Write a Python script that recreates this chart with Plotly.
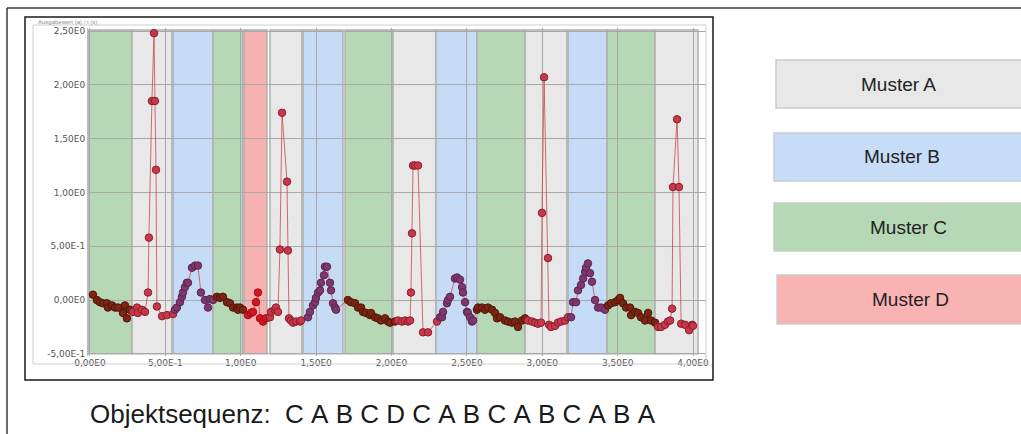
import plotly.graph_objects as go

W, H = 1021, 434

# ---------------- data ----------------
# pattern segments (background bands): start, end, pattern
seg_start = [-0.013, 0.279, 0.551, 0.816, 1.022, 1.194, 1.413, 1.692, 2.010, 2.295, 2.567, 2.886, 3.171, 3.430, 3.748]
seg_end = [0.279, 0.544, 0.816, 1.015, 1.174, 1.406, 1.678, 2.010, 2.295, 2.567, 2.886, 3.164, 3.430, 3.748, 4.033]
seg_pattern = ["C", "A", "B", "C", "D", "A", "B", "C", "A", "B", "C", "A", "B", "C", "A"]

# measurement series, one list per band
x_c1 = [0.020, 0.046, 0.066, 0.086, 0.113, 0.119, 0.146, 0.166, 0.186, 0.219, 0.232, 0.245, 0.265]
y_c1 = [0.05, 0.00, -0.02, -0.03, -0.03, -0.07, -0.05, -0.07, -0.07, -0.12, -0.05, -0.17, -0.09]
x_a1 = [0.285, 0.312, 0.318, 0.345, 0.365, 0.385, 0.391, 0.411, 0.425, 0.431, 0.438, 0.444, 0.478, 0.511, 0.551]
y_a1 = [-0.11, -0.07, -0.12, -0.09, -0.11, 0.07, 0.58, 1.85, 2.48, 1.85, 1.21, -0.06, -0.15, -0.14, -0.13]
x_b1 = [0.564, 0.577, 0.597, 0.610, 0.617, 0.630, 0.643, 0.650, 0.677, 0.697, 0.716, 0.736, 0.763, 0.783, 0.796, 0.816]
y_b1 = [-0.09, -0.07, -0.02, 0.03, 0.07, 0.12, 0.16, 0.16, 0.30, 0.32, 0.32, 0.07, 0.00, -0.07, 0.01, 0.00]
x_c2 = [0.842, 0.862, 0.882, 0.909, 0.929, 0.949, 0.975, 0.982, 0.995, 1.015]
y_c2 = [0.03, 0.02, 0.03, -0.02, -0.03, -0.07, -0.07, -0.09, -0.07, -0.09]
x_d1 = [1.048, 1.068, 1.081, 1.101, 1.114, 1.128, 1.148, 1.167]
y_d1 = [-0.14, -0.12, -0.11, -0.02, 0.07, -0.17, -0.20, -0.17]
x_a2 = [1.194, 1.201, 1.227, 1.234, 1.247, 1.260, 1.274, 1.307, 1.313, 1.320, 1.333, 1.347, 1.367, 1.393, 1.400]
y_a2 = [-0.16, -0.11, -0.09, -0.07, -0.11, 0.47, 1.74, 1.10, 0.46, -0.17, -0.19, -0.21, -0.20, -0.20, -0.19]
x_b2 = [1.446, 1.459, 1.479, 1.493, 1.499, 1.513, 1.526, 1.532, 1.552, 1.559, 1.572, 1.592, 1.599, 1.612, 1.625, 1.632]
y_b2 = [-0.16, -0.11, -0.05, -0.02, 0.02, 0.07, 0.09, 0.16, 0.23, 0.31, 0.31, 0.16, 0.09, -0.03, -0.07, -0.09]
x_c3 = [1.711, 1.731, 1.758, 1.778, 1.798, 1.811, 1.831, 1.857, 1.864, 1.891, 1.910, 1.930, 1.957, 1.977, 1.990, 2.023]
y_c3 = [0.00, -0.02, -0.03, -0.07, -0.07, -0.11, -0.12, -0.14, -0.12, -0.16, -0.17, -0.19, -0.17, -0.20, -0.21, -0.20]
x_a3 = [2.043, 2.070, 2.090, 2.109, 2.123, 2.129, 2.136, 2.143, 2.156, 2.176, 2.209, 2.242, 2.302]
y_a3 = [-0.19, -0.20, -0.19, -0.20, -0.19, 0.07, 0.62, 1.25, 1.25, 1.25, -0.30, -0.30, -0.20]
x_b3 = [2.322, 2.335, 2.342, 2.368, 2.375, 2.388, 2.421, 2.434, 2.454, 2.468, 2.474, 2.488, 2.501, 2.507, 2.521, 2.534, 2.541]
y_b3 = [-0.16, -0.16, -0.11, -0.03, 0.00, 0.03, 0.20, 0.21, 0.19, 0.12, 0.07, -0.02, -0.11, -0.12, -0.16, -0.20, -0.19]
x_c4 = [2.567, 2.574, 2.600, 2.620, 2.640, 2.667, 2.687, 2.700, 2.720, 2.753, 2.773, 2.799, 2.819, 2.839, 2.866, 2.886]
y_c4 = [-0.09, -0.07, -0.07, -0.09, -0.07, -0.09, -0.12, -0.17, -0.16, -0.19, -0.20, -0.21, -0.20, -0.25, -0.19, -0.17]
x_a4 = [2.905, 2.932, 2.952, 2.972, 2.992, 2.998, 3.012, 3.038, 3.045, 3.058, 3.085, 3.104, 3.124, 3.151, 3.171]
y_a4 = [-0.19, -0.20, -0.21, -0.22, -0.21, 0.81, 2.07, 0.39, -0.23, -0.25, -0.24, -0.21, -0.20, -0.19, -0.16]
x_b4 = [3.191, 3.204, 3.224, 3.237, 3.257, 3.271, 3.284, 3.290, 3.303, 3.317, 3.330, 3.350, 3.370, 3.390, 3.416]
y_b4 = [-0.16, -0.02, -0.02, 0.09, 0.14, 0.20, 0.26, 0.30, 0.34, 0.25, 0.17, 0.00, -0.07, -0.07, -0.09]
x_c5 = [3.436, 3.456, 3.483, 3.503, 3.516, 3.536, 3.556, 3.582, 3.589, 3.615, 3.635, 3.655, 3.682, 3.702, 3.722, 3.748]
y_c5 = [-0.05, -0.03, -0.02, 0.00, 0.02, -0.03, -0.07, -0.07, -0.14, -0.11, -0.12, -0.16, -0.19, -0.12, -0.19, -0.21]
x_a5 = [3.768, 3.788, 3.814, 3.834, 3.848, 3.861, 3.867, 3.894, 3.907, 3.921, 3.947, 3.974, 3.994, 4.000]
y_a5 = [-0.25, -0.25, -0.23, -0.20, -0.19, -0.08, 1.05, 1.68, 1.05, -0.22, -0.23, -0.28, -0.23, -0.24]

series_x = [x_c1, x_a1, x_b1, x_c2, x_d1, x_a2, x_b2, x_c3, x_a3, x_b3, x_c4, x_a4, x_b4, x_c5, x_a5]
series_y = [y_c1, y_a1, y_b1, y_c2, y_d1, y_a2, y_b2, y_c3, y_a3, y_b3, y_c4, y_a4, y_b4, y_c5, y_a5]

x_ticks = [0, 0.5, 1.0, 1.5, 2.0, 2.5, 3.0, 3.5, 4.0]
x_tick_labels = ["0,00E0", "5,00E-1", "1,00E0", "1,50E0", "2,00E0", "2,50E0", "3,00E0", "3,50E0", "4,00E0"]
y_ticks = [-0.5, 0, 0.5, 1.0, 1.5, 2.0, 2.5]
y_tick_labels = ["-5,00E-1", "0,00E0", "5,00E-1", "1,00E0", "1,50E0", "2,00E0", "2,50E0"]

legend_labels = ["Muster A", "Muster B", "Muster C", "Muster D"]
sequence_label = "Objektsequenz:"
sequence_items = ["C", "A", "B", "C", "D", "C", "A", "B", "C", "A", "B", "C", "A", "B", "A"]

# ---------------- styles ----------------
band_fill = {"A": "#e8e8e8", "B": "#c6dcf6", "C": "#b7d8b5", "D": "#f8b1b1"}
marker_fill = {"A": "#c8384a", "B": "#80386c", "C": "#7e2412", "D": "#d8141f"}
marker_edge = {"A": "#8a1f2a", "B": "#5a2550", "C": "#4e170b", "D": "#9a0f16"}


def px(x):
    return x / W


def py(y):
    return 1 - y / H


fig = go.Figure()

# connecting line through all points
all_x = [v for s in series_x for v in s]
all_y = [v for s in series_y for v in s]
fig.add_trace(go.Scatter(x=all_x, y=all_y, mode="lines",
                         line=dict(color="rgba(200,60,70,0.75)", width=1),
                         hoverinfo="skip", showlegend=False))

for xs, ys, pat in zip(series_x, series_y, seg_pattern):
    fig.add_trace(go.Scatter(
        x=xs, y=ys, mode="markers", showlegend=False,
        marker=dict(size=7.5, color=marker_fill[pat], line=dict(color=marker_edge[pat], width=1))))

shapes = []
# background bands
for s0, s1, pat in zip(seg_start, seg_end, seg_pattern):
    shapes.append(dict(type="rect", xref="x", yref="y", x0=s0, x1=s1, y0=-0.5, y1=2.51,
                       fillcolor=band_fill[pat], line=dict(color="#b0b0b0", width=1.5), layer="below"))

# outer slide frame lines
shapes.append(dict(type="line", xref="paper", yref="paper", x0=px(7), x1=px(1021), y0=py(8), y1=py(8),
                   line=dict(color="#3a3a3a", width=1.5)))
shapes.append(dict(type="line", xref="paper", yref="paper", x0=px(7), x1=px(7), y0=py(8), y1=py(434),
                   line=dict(color="#3a3a3a", width=1.5)))
# chart screenshot frame
shapes.append(dict(type="rect", xref="paper", yref="paper", x0=px(25), x1=px(713), y0=py(17), y1=py(380),
                   line=dict(color="#1a1a1a", width=1.5)))
# light panel frame
shapes.append(dict(type="rect", xref="paper", yref="paper", x0=px(33), x1=px(706), y0=py(25), y1=py(364),
                   line=dict(color="#cfcfcf", width=1)))

# legend boxes
box_geom = [(776, 60, 108), (774, 133, 181), (774, 203, 251), (777, 275, 324)]
box_fill = ["#e8e8e8", "#c7dcf7", "#b6d8b4", "#f9b3b3"]
text_cx = [898, 902, 908, 910]
annotations = []
for (bx, by0, by1), fc, lab, cx in zip(box_geom, box_fill, legend_labels, text_cx):
    shapes.append(dict(type="rect", xref="paper", yref="paper", x0=px(bx), x1=px(1030), y0=py(by0), y1=py(by1),
                       fillcolor=fc, line=dict(color="#cccccc", width=1.5)))
    annotations.append(dict(x=px(cx), y=py((by0 + by1) / 2), xref="paper", yref="paper", text=lab,
                            showarrow=False, xanchor="center", yanchor="middle",
                            font=dict(family="Liberation Sans, Arial", size=19, color="#222222")))

nb = "\u00a0"
sequence_text = sequence_label + nb * 2 + nb.join(sequence_items)
annotations.append(dict(x=px(88), y=py(414), xref="paper", yref="paper", text=sequence_text,
                        showarrow=False, xanchor="left", yanchor="middle",
                        font=dict(family="Liberation Sans, Arial", size=26, color="#1a1a1a")))
annotations.append(dict(x=px(36), y=py(22), xref="paper", yref="paper", text="Ausgabewert (a) / t (s)",
                        showarrow=False, xanchor="left", yanchor="middle",
                        font=dict(family="Liberation Sans, Arial", size=6, color="#909090")))

fig.update_layout(
    width=W, height=H, margin=dict(l=0, r=0, t=0, b=0, autoexpand=False),
    paper_bgcolor="white", plot_bgcolor="white",
    shapes=shapes, annotations=annotations,
    xaxis=dict(domain=[px(88), px(706)], range=[-0.013, 4.086], tickmode="array", automargin=False,
               tickvals=x_ticks, ticktext=x_tick_labels, showgrid=True, gridcolor="#a9a9a9", gridwidth=1,
               zeroline=False, showline=False, ticks="",
               tickfont=dict(family="DejaVu Sans, Arial", size=9, color="#555555")),
    yaxis=dict(domain=[py(356), py(28)], range=[-0.52, 2.528], tickmode="array", automargin=False,
               tickvals=y_ticks, ticktext=y_tick_labels, showgrid=True, gridcolor="#a9a9a9", gridwidth=1,
               zeroline=False, showline=True, linecolor="#bbbbbb", ticks="",
               tickfont=dict(family="DejaVu Sans, Arial", size=9, color="#555555")),
)

fig.write_html("out.html")
